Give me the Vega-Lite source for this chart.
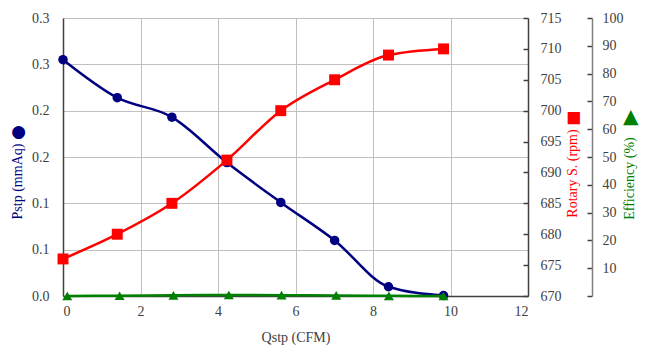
{
  "$schema": "https://vega.github.io/schema/vega-lite/v6.json",
  "width": 465,
  "height": 278,
  "autosize": "none",
  "padding": {"left": 63, "top": 18, "right": 119, "bottom": 60},
  "background": "white",
  "config": {
    "view": {"stroke": null},
    "font": "Liberation Serif",
    "axis": {
      "labelFont": "Liberation Serif",
      "titleFont": "Liberation Serif",
      "labelFontSize": 14,
      "titleFontSize": 14,
      "labelColor": "#404040",
      "titleFontWeight": "normal",
      "gridColor": "#c0c0c0",
      "gridWidth": 1,
      "domainColor": "#404040",
      "domainWidth": 1.5,
      "tickColor": "#404040",
      "tickWidth": 1.5
    }
  },
  "data": {
    "values": [
      {"q": 0.0, "pstp": 0.255, "rpm": 676, "qe": 0.11, "eff": 0.0},
      {"q": 1.40, "pstp": 0.214, "rpm": 680, "qe": 1.46, "eff": 0.1},
      {"q": 2.81, "pstp": 0.193, "rpm": 685, "qe": 2.85, "eff": 0.25},
      {"q": 4.23, "pstp": 0.144, "rpm": 692, "qe": 4.28, "eff": 0.35},
      {"q": 5.62, "pstp": 0.101, "rpm": 700, "qe": 5.64, "eff": 0.3},
      {"q": 7.01, "pstp": 0.060, "rpm": 705, "qe": 7.05, "eff": 0.2},
      {"q": 8.40, "pstp": 0.010, "rpm": 709, "qe": 8.41, "eff": 0.05},
      {"q": 9.82, "pstp": 0.0005, "rpm": 710, "qe": 9.82, "eff": 0.0}
    ]
  },
  "layer": [
    {
      "mark": {"type": "line", "color": "#000080", "strokeWidth": 2.5, "interpolate": "monotone"},
      "encoding": {
        "x": {"field": "q", "type": "quantitative", "scale": {"domain": [0, 12]},
              "axis": {"values": [0, 2, 4, 6, 8, 10, 12], "ticks": false, "grid": true, "labelPadding": 8,
                       "labelFont": "Liberation Serif", "titleFont": "Liberation Serif",
                       "title": "Qstp (CFM)", "titleColor": "#404040", "titleY": 41, "titleBaseline": "middle"}},
        "y": {"field": "pstp", "type": "quantitative", "scale": {"domain": [0, 0.3]},
              "axis": {"orient": "left", "values": [0, 0.05, 0.1, 0.15, 0.2, 0.25, 0.3],
                       "labelExpr": "format(round(datum.value*10 + 0.01)/10, '.1f')",
                       "labelFont": "Liberation Serif", "titleFont": "Liberation Serif",
                       "ticks": false, "labelPadding": 14, "grid": true,
                       "title": "Pstp (mmAq)", "titleColor": "#000080", "titleAngle": 270,
                       "titleX": -46, "titleY": 163, "titleAlign": "center", "titleBaseline": "middle"}}
      }
    },
    {
      "mark": {"type": "point", "filled": true, "shape": "circle", "size": 90, "color": "#000080", "opacity": 1},
      "encoding": {
        "x": {"field": "q", "type": "quantitative", "scale": {"domain": [0, 12]}, "title": "Qstp (CFM)"},
        "y": {"field": "pstp", "type": "quantitative", "scale": {"domain": [0, 0.3]},
              "axis": {"orient": "left", "labels": false, "ticks": false, "domain": false, "grid": false,
                       "title": "●", "titleFont": "DejaVu Sans", "titleFontSize": 17, "titleColor": "#000080",
                       "titleAngle": 270, "titleX": -46, "titleY": 114, "titleAlign": "center", "titleBaseline": "middle"}}
      }
    },
    {
      "mark": {"type": "line", "color": "#ff0000", "strokeWidth": 2.5, "interpolate": "monotone"},
      "encoding": {
        "x": {"field": "q", "type": "quantitative", "scale": {"domain": [0, 12]}, "title": "Qstp (CFM)"},
        "y": {"field": "rpm", "type": "quantitative", "scale": {"domain": [670, 715]},
              "axis": {"orient": "right", "values": [670, 675, 680, 685, 690, 695, 700, 705, 710, 715],
                       "labelFont": "Liberation Serif", "titleFont": "Liberation Serif",
                       "grid": false, "tickSize": -5, "labelPadding": 17,
                       "title": "Rotary S. (rpm)", "titleColor": "#ff0000", "titleAngle": 270,
                       "titleX": 44, "titleY": 155, "titleAlign": "center", "titleBaseline": "middle"}}
      }
    },
    {
      "mark": {"type": "point", "filled": true, "shape": "square", "size": 120, "color": "#ff0000", "opacity": 1},
      "encoding": {
        "x": {"field": "q", "type": "quantitative", "scale": {"domain": [0, 12]}, "title": "Qstp (CFM)"},
        "y": {"field": "rpm", "type": "quantitative", "scale": {"domain": [670, 715]},
              "axis": {"orient": "right", "labels": false, "ticks": false, "domain": false, "grid": false,
                       "title": "■", "titleFont": "DejaVu Sans", "titleFontSize": 16, "titleColor": "#ff0000",
                       "titleAngle": 270, "titleX": 44, "titleY": 100, "titleAlign": "center", "titleBaseline": "middle"}}
      }
    },
    {
      "mark": {"type": "line", "color": "#008000", "strokeWidth": 2.5, "interpolate": "monotone"},
      "encoding": {
        "x": {"field": "qe", "type": "quantitative", "scale": {"domain": [0, 12]}, "title": "Qstp (CFM)"},
        "y": {"field": "eff", "type": "quantitative", "scale": {"domain": [0, 100]},
              "axis": {"orient": "right", "offset": 64, "values": [0, 10, 20, 30, 40, 50, 60, 70, 80, 90, 100],
                       "labelExpr": "datum.value == 0 ? '' : datum.label",
                       "labelFont": "Liberation Serif", "titleFont": "Liberation Serif",
                       "grid": false, "tickSize": -5, "labelPadding": 15, "domainColor": "#808080",
                       "title": "Efficiency (%)", "titleColor": "#008000", "titleAngle": 270,
                       "titleX": 37, "titleY": 160, "titleAlign": "center", "titleBaseline": "middle"}}
      }
    },
    {
      "mark": {"type": "point", "filled": true, "shape": "triangle-up", "size": 100, "color": "#008000", "opacity": 1},
      "encoding": {
        "x": {"field": "qe", "type": "quantitative", "scale": {"domain": [0, 12]}, "title": "Qstp (CFM)"},
        "y": {"field": "eff", "type": "quantitative", "scale": {"domain": [0, 100]},
              "axis": {"orient": "right", "offset": 64, "labels": false, "ticks": false, "domain": false, "grid": false,
                       "title": "▶", "titleFont": "DejaVu Sans", "titleFontSize": 20, "titleColor": "#008000",
                       "titleAngle": 270, "titleX": 37, "titleY": 99, "titleAlign": "center", "titleBaseline": "middle"}}
      }
    }
  ],
  "resolve": {"scale": {"y": "independent"}}
}
